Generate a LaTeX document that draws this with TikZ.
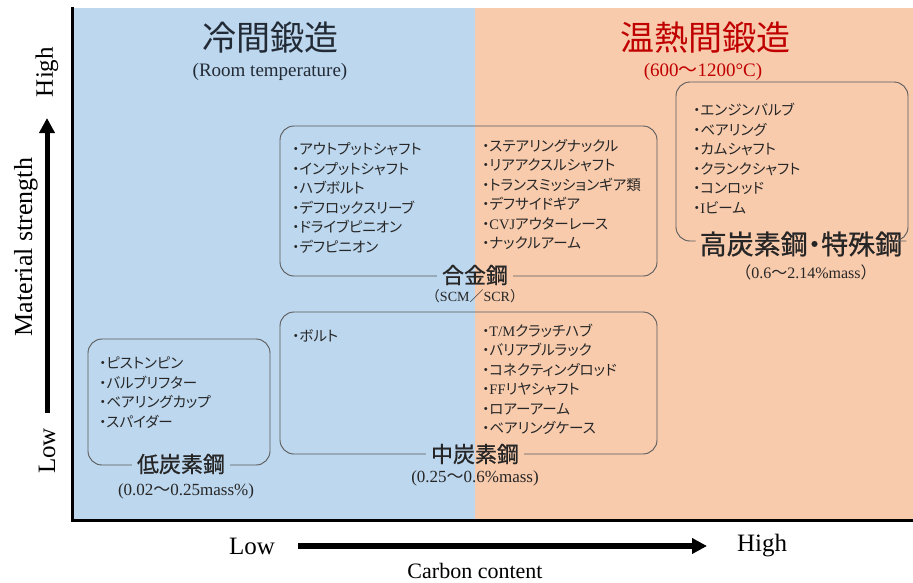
\documentclass[tikz,border=0pt]{standalone}
\usepackage{fontspec}
\setmainfont{Liberation Serif}
\newfontfamily\jp{Noto Sans CJK JP}
\newfontfamily\jpp{Noto Sans CJK JP}[RawFeature=+palt]
\newfontfamily\jplab{Noto Sans CJK JP}[FakeBold=0.8]
\newfontfamily\jplabp{Noto Sans CJK JP}[FakeBold=0.8,RawFeature=+palt]
\usetikzlibrary{arrows.meta}
\definecolor{bgblue}{HTML}{BDD7EE}
\definecolor{bgorange}{HTML}{F8CBAD}
\definecolor{darkred}{HTML}{C00000}
\definecolor{boxline}{HTML}{595959}
\definecolor{txt}{HTML}{262626}
\definecolor{titlec}{HTML}{222A35}
\begin{document}
\begin{tikzpicture}[x=1pt,y=-1pt,
  item/.style={anchor=west, align=left, inner sep=0pt, text=txt,
    font=\jpp\fontsize{14.5}{19.5}\selectfont},
  catlabel/.style={inner sep=5pt, text=txt, font=\jplab\fontsize{22}{24}\selectfont},
  sublabel/.style={inner sep=0pt, text=txt, font=\fontsize{17}{20}\selectfont},
  regbox/.style={draw=boxline, line width=0.9pt, rounded corners=14pt},
  axislabel/.style={inner sep=0pt, text=black, font=\fontsize{25}{28}\selectfont},
  bigarrow/.style={-{Triangle[length=15pt,width=15pt]}},
]
\useasboundingbox (0,0) rectangle (913,582);
% backgrounds
\fill[bgblue] (73,8) rectangle (475,519);
\fill[bgorange] (475,8) rectangle (913,519);
% axes frame
\coordinate (fTop) at (72,7);
\coordinate (fCorner) at (72,520);
\coordinate (fRight) at (913,520);
\draw[line width=3pt] (fTop) -- (fCorner) -- (fRight);

% titles
\node[text=titlec, font=\jp\fontsize{34}{36}\selectfont] (tCold) at (270,38) {冷間鍛造};
\node[text=titlec, font=\fontsize{19}{22}\selectfont] (tColdSub) at (270,72) {(Room temperature)};
\node[text=darkred, font=\jp\fontsize{34}{36}\selectfont] (tWarm) at (705,38) {温熱間鍛造};
\node[text=darkred, font=\fontsize{19}{22}\selectfont] (tWarmSub) at (703,72) {(600{\jp ～}1200°C)};

% alloy steel box
\coordinate (alTL) at (280,126);
\coordinate (alBR) at (657,276);
\node[catlabel] (alLab) at (475,275) {合金鋼};
\draw[regbox] (alLab.east |- alBR) -- (alBR) -- (alBR |- alTL) -- (alTL) -- (alTL |- alBR) -- (alLab.west |- alBR);
\node[sublabel, font=\fontsize{14}{16}\selectfont] (alSub) at (475,296) {{\jp （}SCM{\jp ／}SCR{\jp ）}};
\node[item] (alL) at (292,198) {・アウトプットシャフト\\・インプットシャフト\\・ハブボルト\\・デフロックスリーブ\\・ドライブピニオン\\・デフピニオン};
\node[item] (alR) at (482,194.5) {・ステアリングナックル\\・リアアクスルシャフト\\・トランスミッションギア類\\・デフサイドギア\\・{\rmfamily CVJ}アウターレース\\・ナックルアーム};

% high carbon / special steel box
\coordinate (hiTL) at (676,82);
\coordinate (hiBR) at (908,241);
\node[catlabel, inner sep=4pt, font=\jplabp\fontsize{27}{29}\selectfont] (hiLab) at (801,244) {高炭素鋼・特殊鋼};
\draw[regbox] (hiLab.east |- hiBR) -- (hiBR) -- (hiBR |- hiTL) -- (hiTL) -- (hiTL |- hiBR) -- (hiLab.west |- hiBR);
\node[sublabel, font=\fontsize{16}{18}\selectfont] (hiSub) at (806,272) {{\jp （}0.6{\jp ～}2.14\%mass{\jp ）}};
\node[item] (hiItems) at (693,158.5) {・エンジンバルブ\\・ベアリング\\・カムシャフト\\・クランクシャフト\\・コンロッド\\・{\rmfamily I}ビーム};

% low carbon box
\coordinate (loTL) at (88,339);
\coordinate (loBR) at (270,465);
\node[catlabel] (loLab) at (181,464) {低炭素鋼};
\draw[regbox] (loLab.east |- loBR) -- (loBR) -- (loBR |- loTL) -- (loTL) -- (loTL |- loBR) -- (loLab.west |- loBR);
\node[sublabel] (loSub) at (186,491) {(0.02{\jp ～}0.25mass\%)};
\node[item] (loItems) at (99,392.5) {・ピストンピン\\・バルブリフター\\・ベアリングカップ\\・スパイダー};

% medium carbon box
\coordinate (mdTL) at (280,312);
\coordinate (mdBR) at (657,454);
\node[catlabel] (mdLab) at (475,454) {中炭素鋼};
\draw[regbox] (mdLab.east |- mdBR) -- (mdBR) -- (mdBR |- mdTL) -- (mdTL) -- (mdTL |- mdBR) -- (mdLab.west |- mdBR);
\node[sublabel] (mdSub) at (475,478) {(0.25{\jp ～}0.6\%mass)};
\node[item] (mdL) at (292,336) {・ボルト};
\node[item] (mdR) at (482,379.5) {・{\rmfamily T/M}クラッチハブ\\・バリアブルラック\\・コネクティングロッド\\・{\rmfamily FF}リヤシャフト\\・ロアーアーム\\・ベアリングケース};

% vertical axis
\coordinate (vB) at (47,413);
\coordinate (vT) at (47,118);
\draw[line width=5pt, bigarrow] (vB) -- (vT);
\node[axislabel, rotate=90] (vHigh) at (47,72) {High};
\node[axislabel, rotate=90] (vLow) at (47,451) {Low};
\node[axislabel, rotate=90, font=\fontsize{26}{28}\selectfont] (vTitle) at (26,247) {Material strength};

% horizontal axis
\coordinate (hL) at (298,546);
\coordinate (hR) at (707,546);
\draw[line width=6pt, bigarrow] (hL) -- (hR);
\node[axislabel] (hLow) at (252,546) {Low};
\node[axislabel] (hHigh) at (762,546) {High};
\node[axislabel, font=\fontsize{22}{24}\selectfont] (hTitle) at (475,571) {Carbon content};
\end{tikzpicture}
\end{document}
